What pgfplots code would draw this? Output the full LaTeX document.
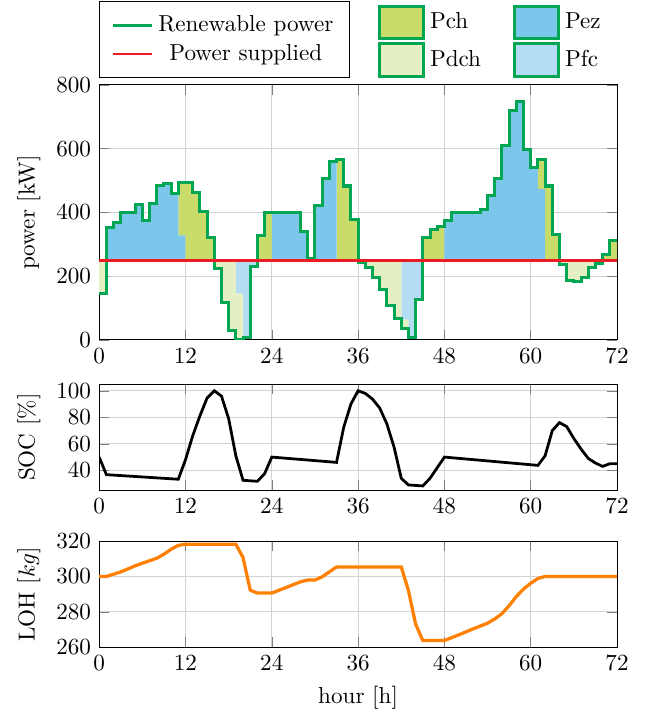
\documentclass[border=0pt]{standalone}
\usepackage{pgfplots}
\pgfplotsset{compat=1.18}
\usepackage{pgfplotstable}

\definecolor{renew}{RGB}{0,166,81}
\definecolor{supply}{RGB}{237,28,36}
\definecolor{pch}{RGB}{201,219,104}
\definecolor{pez}{RGB}{124,198,236}
\definecolor{pdch}{RGB}{229,239,196}
\definecolor{pfc}{RGB}{180,220,243}
\definecolor{loh}{RGB}{255,127,0}

% h = hour, R = renewable power, m = split between hydrogen part and battery part
\pgfplotstableread{
h R m
0 147 250
1 353 353
2 369 369
3 400 400
4 400 400
5 426 426
6 374 374
7 429 429
8 485 485
9 490 490
10 459 459
11 495 328
12 495 250
13 462 250
14 402 250
15 322 250
16 224 250
17 118 250
18 31 250
19 2 146
20 8 8
21 231 231
22 328 250
23 400 250
24 400 400
25 400 400
26 400 400
27 400 400
28 341 341
29 255 255
30 421 421
31 508 508
32 560 560
33 565 250
34 483 250
35 379 250
36 243 250
37 227 250
38 196 250
39 157 250
40 107 250
41 67 250
42 36 64
43 9 9
44 126 126
45 322 250
46 348 250
47 356 250
48 374 374
49 400 400
50 400 400
51 400 400
52 400 400
53 410 410
54 454 454
55 505 505
56 609 609
57 720 720
58 749 749
59 598 598
60 540 540
61 567 473
62 483 250
63 330 250
64 238 250
65 186 250
66 183 250
67 196 250
68 226 250
69 240 250
70 268 250
71 312 250
72 312 250
}\power

\pgfplotstableread{
h soc
0 50
1 36.75
11 33.3
12 48
13 66
14 81
15 94.5
16 100
17 96
18 79
19 51
20 32.5
22 31.75
23 37.5
24 50
33 46
34 72.5
35 90
36 100
37 98
38 93.75
39 87
40 75
41 57.5
42 34
43 29
45 28.25
46 34
47 42
48 50
61 43.75
62 51
63 70
64 76
65 73
66 64
67 56
68 49
69 45.5
70 43
71 45
72 45
}\soc

\pgfplotstableread{
h loh
0 300
1 300
3 302.6
5 306
6 307.5
8 310.3
9 312.6
10 315.4
11 317.6
12 318.2
19 318.2
20 310.7
21 292.3
22 290.6
24 290.6
26 293.8
28 297
29 298
30 298
31 299.8
33 305.4
42 305.4
43 292
44 273
45 263.8
48 263.8
50 267
52 270.4
54 273.6
55 276
56 279
57 283.5
58 288.7
59 292.9
60 296.2
61 298.9
62 300
72 300
}\lohdata

\pgfplotsset{
  every axis/.append style={
    scale only axis, width=224pt,
    xmin=0, xmax=72, xtick={0,12,...,72},
    grid=major, grid style={gray!35},
  },
}

\begin{document}
\begin{tikzpicture}
\path (-42.9pt,36.5pt) rectangle (236.9pt,-271.1pt);

% stacked areas: below part, Pdch, Pfc, Pez, Pch
\begin{axis}[
  at={(0,0)}, anchor=north west, height=110.3pt,
  ymin=0, ymax=800, ytick={0,200,...,800},
  ylabel={power [kW]},
  stack plots=y,
]
\addplot[const plot, draw=none] table[x=h, y expr={min(\thisrow{R},250)}] {\power};
\addplot[const plot, draw=none, fill=pdch] table[x=h, y expr={min(\thisrow{m},250)-min(\thisrow{R},250)}] {\power} \closedcycle;
\addplot[const plot, draw=none, fill=pfc] table[x=h, y expr={250-min(\thisrow{m},250)}] {\power} \closedcycle;
\addplot[const plot, draw=none, fill=pez] table[x=h, y expr={max(\thisrow{m},250)-250}] {\power} \closedcycle;
\addplot[const plot, draw=none, fill=pch] table[x=h, y expr={max(\thisrow{R},250)-max(\thisrow{m},250)}] {\power} \closedcycle;
\end{axis}

\begin{axis}[
  at={(0,0)}, anchor=north west, height=110.3pt,
  hide axis, ymin=0, ymax=800,
  legend cell align=center,
  legend style={at={(0,1)}, anchor=south west, yshift=3pt, draw=black,
    inner xsep=5pt, inner ysep=4pt},
]
\addplot[const plot, renew, line width=1.3pt] table[x=h, y=R] {\power};
\addlegendentry{Renewable power}
\addplot[supply, line width=1.2pt] coordinates {(0,250) (72,250)};
\addlegendentry{Power supplied}
\end{axis}

\begin{axis}[
  at={(0,0)}, anchor=north west, height=110.3pt,
  hide axis, ymin=0, ymax=1,
  legend columns=2, legend cell align=left,
  legend image code/.code={\draw[#1, draw=renew, line width=1.3pt] (0pt,-7pt) rectangle (19pt,7pt);},
  legend style={at={(0.525,1.335)}, anchor=north west, draw=none,
    /tikz/every even column/.append style={column sep=12pt},
    row sep=1pt},
]
\addlegendimage{fill=pch}
\addlegendentry{Pch}
\addlegendimage{fill=pez}
\addlegendentry{Pez}
\addlegendimage{fill=pdch}
\addlegendentry{Pdch}
\addlegendimage{fill=pfc}
\addlegendentry{Pfc}
\end{axis}

\begin{axis}[
  at={(0,-129.4pt)}, anchor=north west, height=45.9pt,
  ymin=25, ymax=105, ytick={40,60,80,100},
  ylabel={SOC [\%]},
]
\addplot[black, line width=1.2pt] table[x=h, y=soc] {\soc};
\end{axis}

\begin{axis}[
  at={(0,-197.3pt)}, anchor=north west, height=45.9pt,
  ymin=260, ymax=320, ytick={260,280,...,320},
  ylabel={LOH [$kg$]}, xlabel={hour [h]},
]
\addplot[loh, line width=1.4pt] table[x=h, y=loh] {\lohdata};
\end{axis}
\end{tikzpicture}
\end{document}
